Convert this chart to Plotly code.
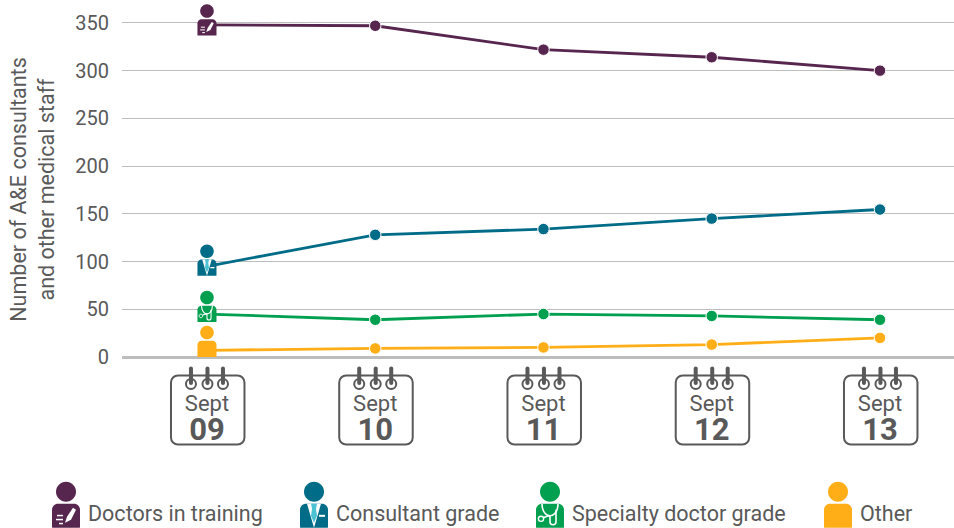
import plotly.graph_objects as go

# ---- data ----
categories = ["Sept 09", "Sept 10", "Sept 11", "Sept 12", "Sept 13"]
tick_months = ["Sept", "Sept", "Sept", "Sept", "Sept"]
tick_years = ["09", "10", "11", "12", "13"]
doctors_in_training = [348, 347, 322, 314, 300]
consultant_grade = [95, 128, 134, 145, 154.5]
specialty_doctor_grade = [45, 39, 45, 43, 39]
other = [7, 9, 10, 13, 20]
y_ticks = [0, 50, 100, 150, 200, 250, 300, 350]

PURPLE, TEAL, GREEN, ORANGE = "#57264f", "#006c87", "#00a050", "#ffae17"
TEXT = "#595959"
GRID = "#bdbdbd"
FONT = "Roboto, Arial, sans-serif"
W, H = 954, 528
K = 0.5523


def circle(cx, cy, r):
    c = K * r
    return [("M", cx - r, cy), ("C", cx - r, cy - c, cx - c, cy - r, cx, cy - r),
            ("C", cx + c, cy - r, cx + r, cy - c, cx + r, cy),
            ("C", cx + r, cy + c, cx + c, cy + r, cx, cy + r),
            ("C", cx - c, cy + r, cx - r, cy + c, cx - r, cy), ("Z",)]


def rrect(x0, y0, x1, y1, r, r_bottom=None):
    rb = r if r_bottom is None else r_bottom
    c, d = K * r, K * rb
    return [("M", x0 + r, y0), ("L", x1 - r, y0), ("C", x1 - r + c, y0, x1, y0 + r - c, x1, y0 + r),
            ("L", x1, y1 - rb), ("C", x1, y1 - rb + d, x1 - rb + d, y1, x1 - rb, y1),
            ("L", x0 + rb, y1), ("C", x0 + rb - d, y1, x0, y1 - rb + d, x0, y1 - rb),
            ("L", x0, y0 + r), ("C", x0, y0 + r - c, x0 + r - c, y0, x0 + r, y0), ("Z",)]


def poly(*pts):
    return [("M", *pts[0])] + [("L", *p) for p in pts[1:]] + [("Z",)]


def to_path(cmds, s=1.0, off=0.0):
    parts = []
    for c in cmds:
        nums = []
        for i, v in enumerate(c[1:]):
            nums.append(f"{v * s:.2f}" if i % 2 == 0 else f"{-(v * s + off):.2f}")  # pixel y grows upward
        parts.append((c[0] + " " + " ".join(nums)).strip())
    return " ".join(parts)


def add(shapes, cmds, anchor, s=1.0, off=0.0, fill="rgba(0,0,0,0)", line=None, lw=0):
    xa, ya, xref, yref = anchor
    shapes.append(dict(type="path", path=to_path(cmds, s, off), xref=xref, yref=yref, xsizemode="pixel",
                       ysizemode="pixel", xanchor=xa, yanchor=ya, fillcolor=fill, layer="above",
                       line=dict(color=line or "rgba(0,0,0,0)", width=lw)))


# icon geometry: unit = legend-size icon, origin at head centre
def person(shapes, kind, anchor, color, s=1.0, off=0.0):
    kw = dict(s=s, off=off)
    white = "#ffffff"
    add(shapes, circle(0, 0, 10), anchor, fill=color, **kw)
    add(shapes, rrect(-14, 12, 14, 36, 6, 0.5), anchor, fill=color, **kw)
    if kind == "pen":
        add(shapes, poly((-1, 31), (1, 25), (7, 16), (10, 18), (5, 28)), anchor, fill=white, **kw)
        add(shapes, poly((-9, 23), (-3, 23), (-3, 24.5), (-9, 24.5)), anchor, fill=white, **kw)
        add(shapes, poly((-10, 27), (-3, 27), (-3, 28.5), (-10, 28.5)), anchor, fill=white, **kw)
        add(shapes, poly((-7, 31), (-3, 31), (-3, 32.5), (-7, 32.5)), anchor, fill=white, **kw)
    elif kind == "tie":
        add(shapes, poly((-7, 12), (-2, 12), (0, 17), (2, 12), (7, 12), (0, 36)), anchor, fill=white, **kw)
        add(shapes, poly((-3, 12), (3, 12), (2, 17), (3, 24), (0, 31), (-3, 24), (-2, 17)), anchor, fill="#4cc3d3", **kw)
        add(shapes, poly((5, 23), (11, 23), (11, 25), (5, 25)), anchor, fill=white, **kw)
    elif kind == "scope":
        add(shapes, [("M", -8, 12), ("C", -8, 22, -2, 24, 0, 24), ("C", 2, 24, 8, 22, 8, 12)], anchor, line=white, lw=1.6 * s, **kw)
        add(shapes, circle(-9, 27, 2.6), anchor, line=white, lw=1.4 * s, **kw)
        add(shapes, [("M", -6.5, 26), ("C", -3, 24, -1, 24, 0, 24), ("L", 0, 30), ("C", 0, 34, 6, 34, 6, 30), ("L", 6, 18)],
            anchor, line=white, lw=1.6 * s, **kw)


shapes = []
# icons at the first point of each series (pixel size, anchored to the data)
icons = [("pen", doctors_in_training, PURPLE, -13.8), ("tie", consultant_grade, TEAL, -15),
         ("scope", specialty_doctor_grade, GREEN, -16.5), ("plain", other, ORANGE, -17.8)]
for kind, series, color, head_dy in icons:
    person(shapes, kind, (categories[0], series[0], "x", "y"), color, s=0.68, off=head_dy)

# calendars under each tick
CAL = "#595959"
for c in categories:
    anc = (c, 0, "x", "paper")
    add(shapes, rrect(-36, 18.5, 37.5, 87.5, 7), anc, line=CAL, lw=2)
    for dx in (-16, 0.5, 16):
        add(shapes, circle(dx, 27, 5), anc, fill="#ffffff", line=CAL, lw=2)
        add(shapes, rrect(dx - 2, 9.5, dx + 2, 28, 2), anc, fill=CAL)

# legend entries: icon + text
legend_items = [("Doctors in training", "pen", PURPLE, 66, 88), ("Consultant grade", "tie", TEAL, 314, 336),
                ("Specialty doctor grade", "scope", GREEN, 550, 572), ("Other", "plain", ORANGE, 838, 860)]
# plot area bottom sits 170.5 px from the page bottom; legend uses paper coordinates (may extend below 0)
PLOT_H = H - 170.5
annotations = [dict(text="Number of A&E consultants<br>and other medical staff", textangle=-90,
                    x=(33 - 122) / (W - 122), y=1 - 190 / PLOT_H, xref="paper", yref="paper",
                    xanchor="center", yanchor="middle", showarrow=False,
                    font=dict(size=21.5, color=TEXT, family=FONT))]
for label, kind, color, ix, tx in legend_items:
    person(shapes, kind, (((ix - 122) / (W - 122)), 1 - 492.5 / PLOT_H, "paper", "paper"), color)
    annotations.append(dict(text=label, x=(tx - 2 - 122) / (W - 122), y=1 - 514 / PLOT_H, xref="paper", yref="paper",
                            xanchor="left", yanchor="middle", showarrow=False,
                            font=dict(size=21.5, color=TEXT, family=FONT)))

fig = go.Figure()
for name, values, color in [("Doctors in training", doctors_in_training, PURPLE),
                            ("Consultant grade", consultant_grade, TEAL),
                            ("Specialty doctor grade", specialty_doctor_grade, GREEN),
                            ("Other", other, ORANGE)]:
    fig.add_trace(go.Scatter(x=categories, y=values, name=name, mode="lines+markers", cliponaxis=False,
                             line=dict(color=color, width=2.8),
                             marker=dict(color=color, opacity=1, size=[0, 11.5, 11.5, 11.5, 11.5])))

ticktext = [f"{m}<br><span style='font-size:31px;font-weight:bold'>{y}</span>" for m, y in zip(tick_months, tick_years)]
fig.update_layout(
    width=W, height=H, showlegend=False, paper_bgcolor="white", plot_bgcolor="white",
    margin=dict(l=122, r=0, t=0, b=170.5, pad=0),
    font=dict(family=FONT, color=TEXT, size=20),
    shapes=shapes, annotations=annotations,
    xaxis=dict(type="category", categoryorder="array", categoryarray=categories, range=[-0.505, 4.44],
               tickmode="array", tickvals=categories, ticktext=ticktext, ticks="outside", ticklen=27,
               tickcolor="rgba(0,0,0,0)", showgrid=False, showline=False, zeroline=False,
               tickfont=dict(size=22, color=TEXT, family=FONT), tickangle=0),
    yaxis=dict(range=[0, 374], tickmode="array", tickvals=y_ticks, ticks="outside", ticklen=8,
               tickcolor="rgba(0,0,0,0)", showgrid=True, gridcolor=GRID, gridwidth=1, zeroline=True,
               zerolinecolor=GRID, zerolinewidth=3, showline=False,
               tickfont=dict(size=20, color=TEXT, family=FONT)),
)
fig.write_html("out.html", post_script="document.body.style.margin='0';", config={"displayModeBar": False})
